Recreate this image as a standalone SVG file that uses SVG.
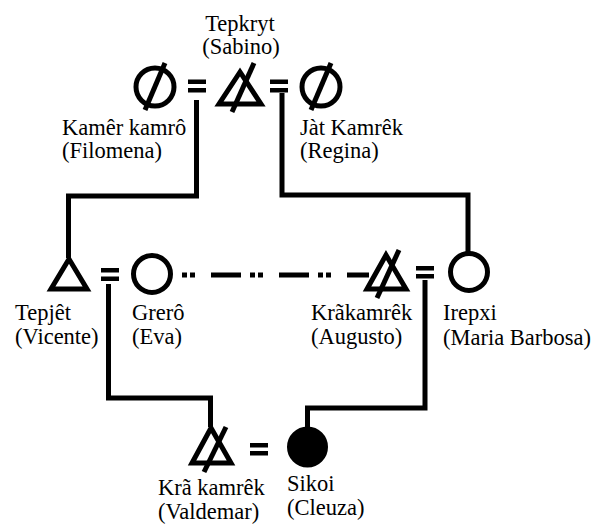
<svg xmlns="http://www.w3.org/2000/svg" width="602" height="525" viewBox="0 0 602 525">
<style>
.s{fill:none;stroke:#000;stroke-width:5}
.f{fill:#000;stroke:#000;stroke-width:2}
.c{fill:none;stroke:#000;stroke-width:5;stroke-linejoin:miter}
.b{fill:#000}
text{font-family:"Liberation Serif","Times New Roman",serif;font-size:22.5px;fill:#000}
</style>
<rect width="602" height="525" fill="#fff"/>
<g id="connectors">
<polyline class="c" points="196.5,100 196.5,196 68.5,196 68.5,258"/>
<polyline class="c" points="282,93 282,195 468,195 468,253"/>
<polyline class="c" points="108.5,284 108.5,398 210.5,398 210.5,427"/>
<polyline class="c" points="425,280 425,408 307.5,408 307.5,428"/>
<line class="s" x1="182" y1="275" x2="369" y2="275" stroke-dasharray="5 3 5 16 30 9"/>
</g>
<g id="marriage-top-left"><rect class="b" x="188" y="79.5" width="18" height="4.5"/><rect class="b" x="188" y="88" width="18" height="4.5"/></g>
<g id="marriage-top-right"><rect class="b" x="270" y="79.5" width="18" height="4.5"/><rect class="b" x="270" y="88" width="18" height="4.5"/></g>
<g id="marriage-mid-left"><rect class="b" x="101" y="268" width="18" height="4.5"/><rect class="b" x="101" y="276.5" width="18" height="4.5"/></g>
<g id="marriage-mid-right"><rect class="b" x="416" y="266" width="18" height="4.5"/><rect class="b" x="416" y="274" width="18" height="4.5"/></g>
<g id="marriage-bottom"><rect class="b" x="250" y="443" width="18" height="4.5"/><rect class="b" x="250" y="451" width="18" height="4.5"/></g>
<g id="kamer-kamro">
<circle class="s" cx="155" cy="87" r="19"/>
<line class="s" x1="145" y1="110" x2="165" y2="63"/>
<text x="62" y="135">Kamêr kamrô</text>
<text x="62" y="158">(Filomena)</text>
</g>
<g id="tepkryt">
<polygon class="c" points="240,72 219,104 261,104"/>
<line class="s" x1="232" y1="112" x2="254" y2="63"/>
<text x="240" y="31" text-anchor="middle">Tepkryt</text>
<text x="241" y="54" text-anchor="middle">(Sabino)</text>
</g>
<g id="jat-kamrek">
<circle class="s" cx="321" cy="87" r="19"/>
<line class="s" x1="311" y1="110" x2="331" y2="63"/>
<text x="300" y="135">Jàt Kamrêk</text>
<text x="300" y="158">(Regina)</text>
</g>
<g id="tepjet">
<polygon class="c" points="69,259 51,289 87,289"/>
<text x="15" y="320">Tepjêt</text>
<text x="15" y="344">(Vicente)</text>
</g>
<g id="grero">
<circle class="s" cx="152" cy="274" r="18.5"/>
<text x="132" y="320">Grerô</text>
<text x="132" y="344">(Eva)</text>
</g>
<g id="krakamrek">
<polygon class="c" points="386,255 367,289 406,289"/>
<line class="s" x1="377" y1="298" x2="399" y2="250"/>
<text x="311" y="320">Krãkamrêk</text>
<text x="311" y="344">(Augusto)</text>
</g>
<g id="irepxi">
<circle class="s" cx="469" cy="272" r="18.5"/>
<text x="443" y="320">Irepxi</text>
<text x="443" y="345">(Maria Barbosa)</text>
</g>
<g id="kra-kamrek">
<polygon class="c" points="211,428 192,463 231,463"/>
<line class="s" x1="204" y1="472" x2="226" y2="427"/>
<text x="158" y="495">Krã kamrêk</text>
<text x="158" y="519">(Valdemar)</text>
</g>
<g id="sikoi">
<circle class="f" cx="307.5" cy="447" r="19.5"/>
<text x="287" y="491">Sikoi</text>
<text x="287" y="515">(Cleuza)</text>
</g>
</svg>
